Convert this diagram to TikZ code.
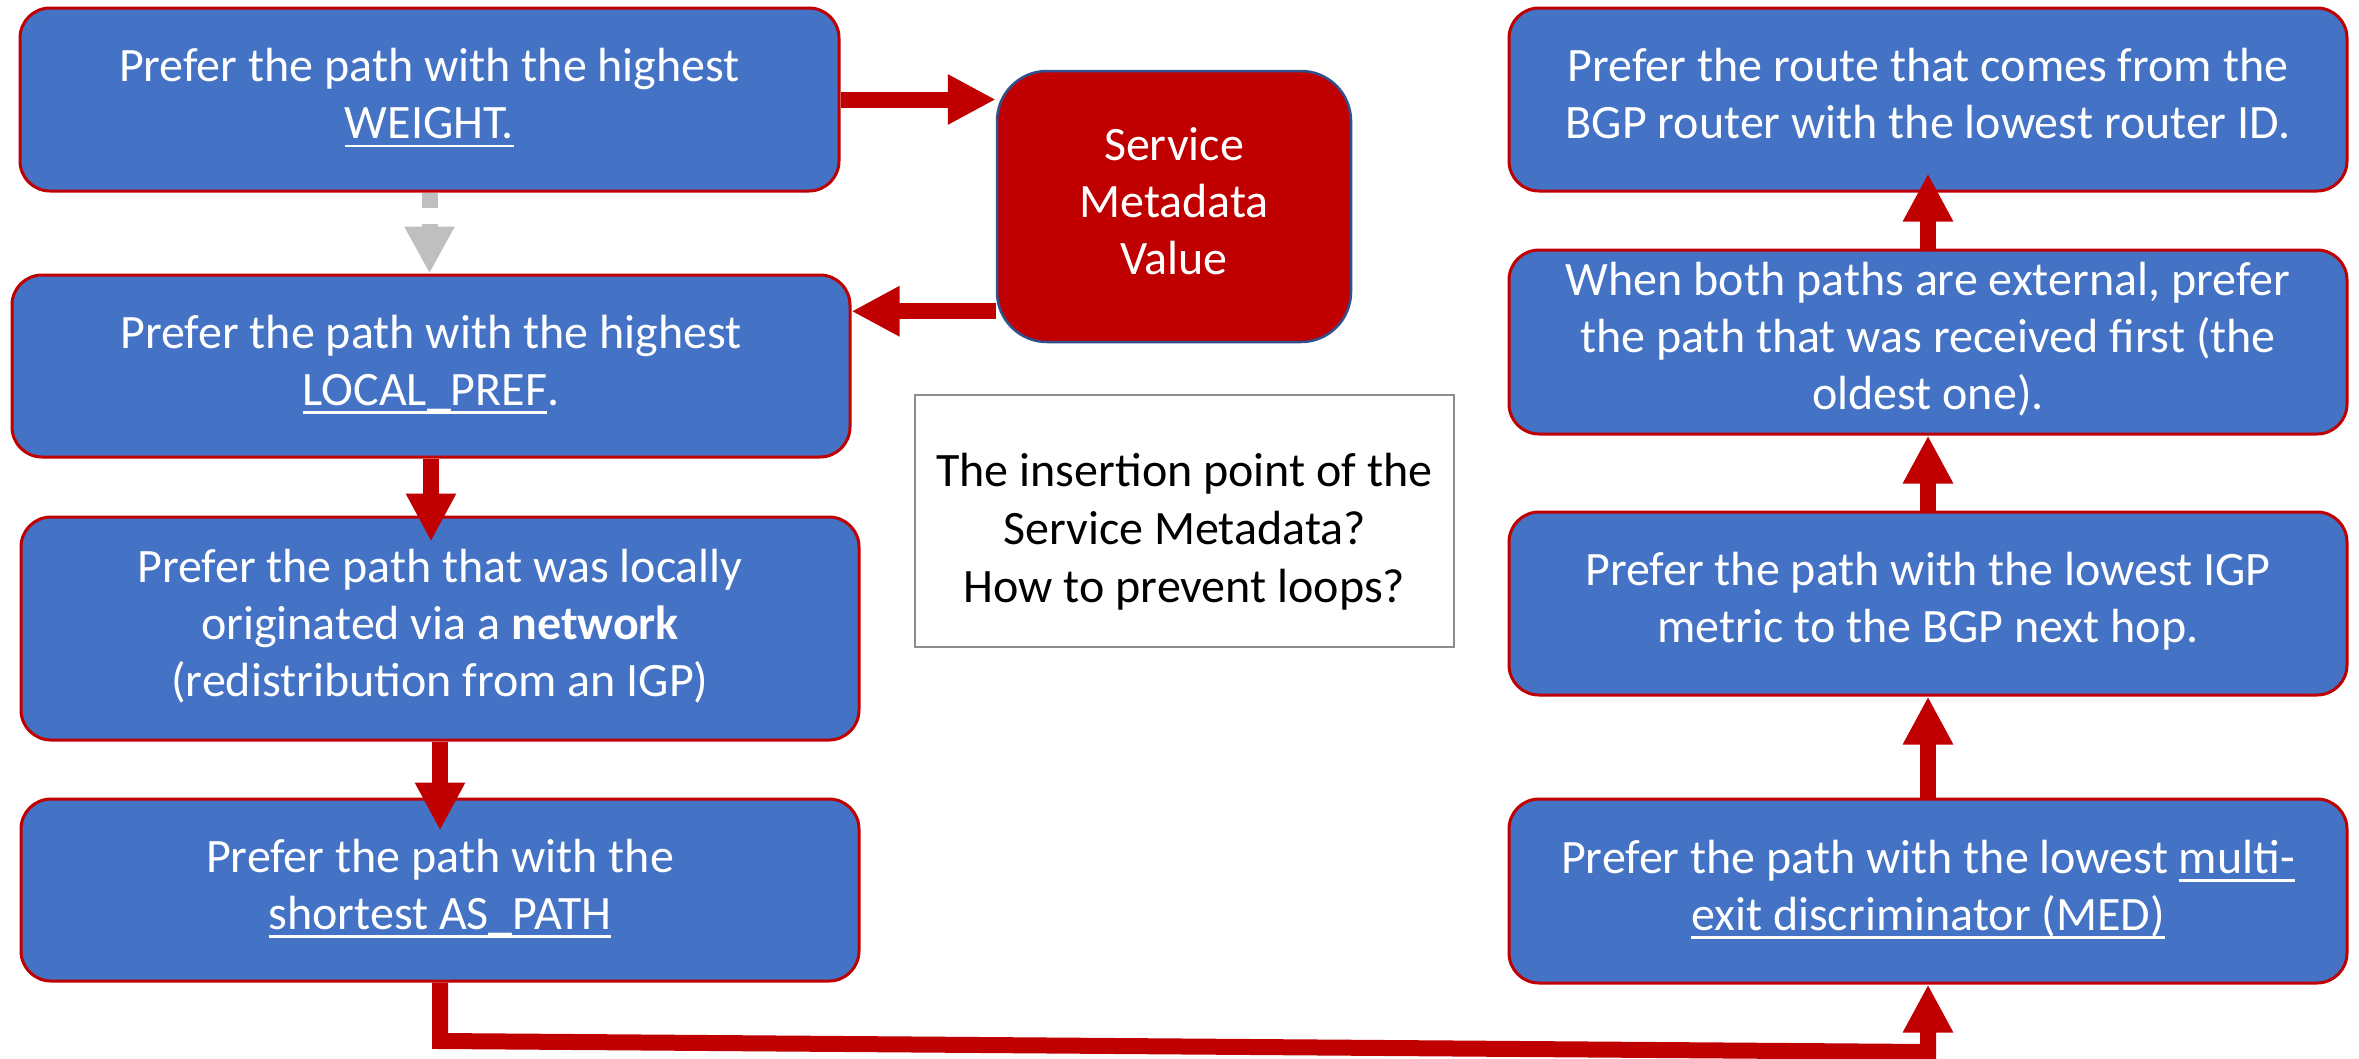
\documentclass[tikz,border=0pt]{standalone}
\usepackage{fontspec}
\setmainfont{Carlito}
\usetikzlibrary{arrows.meta,calc}
\definecolor{bblue}{HTML}{4472C4}
\definecolor{ared}{HTML}{C00000}
\definecolor{garrow}{HTML}{BFBFBF}
\definecolor{svedge}{HTML}{2F528F}
\definecolor{infoedge}{HTML}{8C8C8C}
\newcommand\undl[1]{\setbox0\hbox{#1}\rlap{\rule[-8.5pt]{\wd0}{2.6pt}}\box0}
\newcommand\lstrut{\rule[-12pt]{0pt}{54pt}}
\tikzset{
  stepbox/.style={draw=ared, line width=3pt, fill=bblue, rounded corners=30pt,
    text=white, align=center, inner sep=0pt,
    font=\fontsize{48}{57}\selectfont,
    execute at begin node=\lstrut, execute at end node=\lstrut},
  svbox/.style={draw=svedge, line width=2.5pt, fill=ared, rounded corners=50pt,
    text=white, align=center, inner sep=0pt,
    font=\fontsize{48}{57}\selectfont,
    execute at begin node=\lstrut, execute at end node=\lstrut},
  infobox/.style={draw=infoedge, line width=2.5pt, fill=white, text=black,
    align=center, inner sep=0pt, font=\fontsize{48}{58}\selectfont,
    execute at begin node=\lstrut, execute at end node=\lstrut},
  redarrow/.style={draw=ared, line width=16pt, -{Triangle[width=47pt,length=48pt]}},
  grayarrow/.style={draw=garrow, line width=16pt, dash pattern=on 15pt off 16pt,
    -{Triangle[width=47pt,length=47pt]}},
}
\begin{document}
\begin{tikzpicture}[x=1pt,y=-1pt]
\path[fill=white,use as bounding box] (0,0) rectangle (2359,1058);

% left column
\node[stepbox, minimum width=819pt, minimum height=183pt] (b1) at (429.5,99.5)
  {Prefer the path with the highest\\ \undl{WEIGHT.}};
\node[stepbox, minimum width=838pt, minimum height=182pt] (b2) at (431,366)
  {Prefer the path with the highest\\ \undl{LOCAL\_PREF}.};
\node[stepbox, minimum width=838pt, minimum height=223pt] (b3) at (440,628.5)
  {Prefer the path that was locally\\ originated via a \textbf{network}\\ (redistribution from an IGP)};
\node[stepbox, minimum width=838pt, minimum height=182pt] (b4) at (440,890)
  {Prefer the path with the\\ \undl{shortest AS\_PATH}};

% service metadata
\node[svbox, minimum width=354pt, minimum height=271pt] (sv) at (1174,206.5)
  {Service\\ Metadata\\ Value};

% question box
\node[infobox, minimum width=539pt, minimum height=252pt] (info) at (1184.5,521)
  {\mbox{}\\ The insertion point of the\\ Service Metadata?\\ How to prevent loops?};

% right column
\node[stepbox, minimum width=838pt, minimum height=183pt] (r1) at (1928,99.5)
  {Prefer the route that comes from the\\ BGP router with the lowest router ID.};
\node[stepbox, minimum width=838pt, minimum height=184pt] (r2) at (1928,342)
  {When both paths are external, prefer\\ the path that was received first (the\\ oldest one).};
\node[stepbox, minimum width=838pt, minimum height=183pt] (r3) at (1928,603.5)
  {Prefer the path with the lowest IGP\\ metric to the BGP next hop.};
\node[stepbox, minimum width=838pt, minimum height=184pt] (r4) at (1928,891)
  {Prefer the path with the lowest \undl{multi-}\\ \undl{exit discriminator (MED)}};

% connectors
\draw[redarrow] (b1.east) -- (b1.east -| sv.west);
\coordinate (svo) at ($(sv.south west)+(0,-32)$);
\draw[redarrow] (svo) -- (svo -| b2.east);
\draw[grayarrow] (b1.south) -- (b1.south |- b2.north);
\draw[redarrow] (b2.south) -- ($(b2.south |- b3.north)+(0,26)$);
\draw[redarrow] (b3.south) -- ($(b3.south |- b4.north)+(0,33)$);
\coordinate (c1) at (440,1041);
\coordinate (c2) at (1928,1052);
\draw[redarrow] (b4.south) -- (c1) -- (c2) -- (r4.south);
\draw[redarrow] (r4.north) -- (r3.south);
\draw[redarrow] (r3.north) -- (r2.south);
\draw[redarrow] (r2.north) -- ($(r1.south)+(0,-19)$);
\end{tikzpicture}
\end{document}
